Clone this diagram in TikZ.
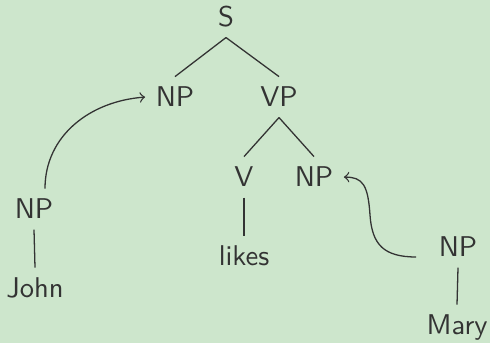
\documentclass[tikz,border=0pt]{standalone}
\usepackage{xcolor}
\definecolor{bgcol}{RGB}{205,230,204}
\definecolor{ink}{RGB}{51,51,51}
\begin{document}
\begin{tikzpicture}[x=0.35pt,y=-0.35pt,
  lbl/.style={anchor=base,font=\sffamily,text=ink,inner sep=3.5pt,
    text height=6.94pt,text depth=0pt},
  branch/.style={draw=ink,line width=0.45pt},
  move/.style={draw=ink,line width=0.45pt,->,>=to}]
  % canvas
  \fill[bgcol] (0,0) rectangle (490,343);
  \useasboundingbox (0,0) rectangle (490,343);

  % tree labels
  \node[lbl] (s)     at (226,27)  {S};
  \node[lbl] (npt)   at (175,107) {NP};
  \node[lbl] (vp)    at (279,107) {VP};
  \node[lbl] (v)     at (244,187) {V};
  \node[lbl] (npm)   at (314,187) {NP};
  \node[lbl] (likes) at (244,266) {likes};
  \node[lbl] (npl)   at (34,219)  {NP};
  \node[lbl] (john)  at (35,298)  {John};
  \node[lbl] (npr)   at (458,257) {NP};
  \node[lbl] (mary)  at (457,335) {Mary};

  % branches
  \draw[branch] (s.south) -- (npt.north);
  \draw[branch] (s.south) -- (vp.north);
  \draw[branch] (vp.south) -- (v.north);
  \draw[branch] (vp.south) -- (npm.north);
  \draw[branch] (v.south) -- (likes.north);
  \draw[branch] (npl.south) -- (john.north);
  \draw[branch] (npr.south) -- (mary.north);

  % movement arrows
  \draw[move] ([xshift=3.85pt]npl.north) .. controls +(0,-53) and +(-55,4) .. (npt.west);
  \coordinate (bend) at (370,215);
  \draw[move] ([xshift=-4.2pt]npr.base west) .. controls +(-32,0) and +(2,30) .. (bend)
    .. controls +(-2,-30) and +(19,0) .. (npm.east);
\end{tikzpicture}
\end{document}
